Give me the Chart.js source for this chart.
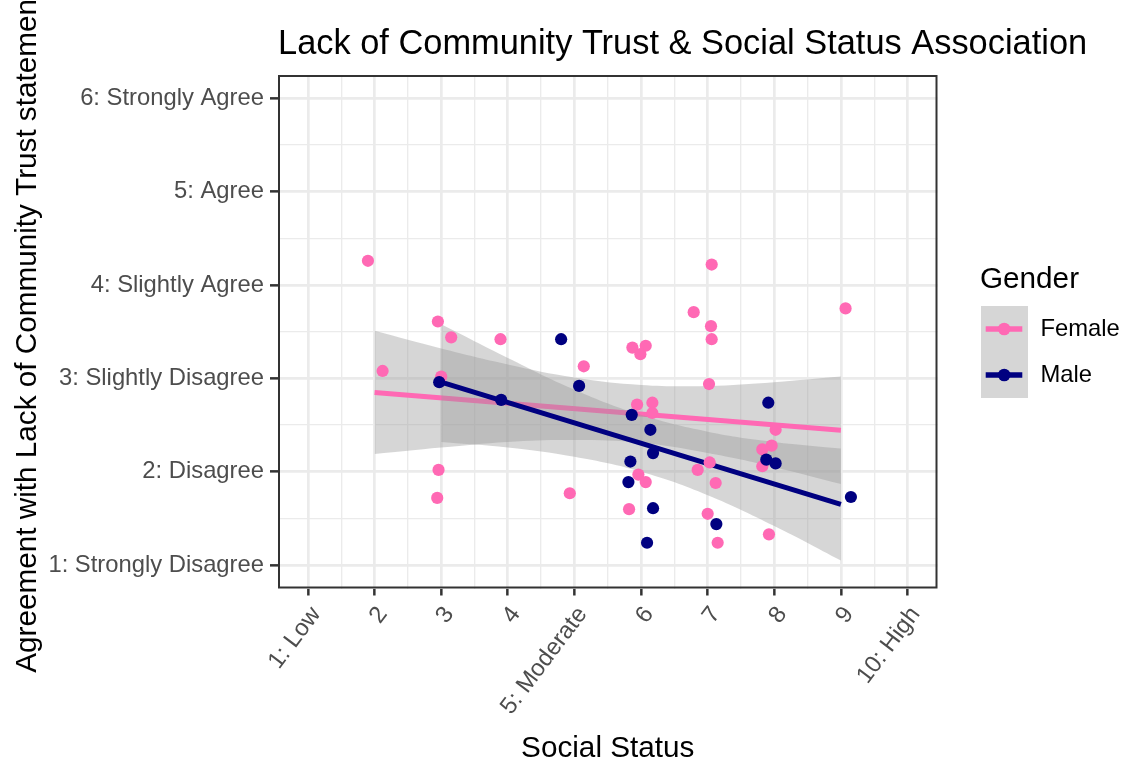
<!DOCTYPE html>
<html>
<head>
<meta charset="utf-8">
<title>Lack of Community Trust &amp; Social Status Association</title>
<script src="https://cdn.jsdelivr.net/npm/chart.js@4.4.1/dist/chart.umd.min.js"></script>
<style>
  html, body { margin: 0; padding: 0; background: #ffffff; }
  #wrap { width: 1125px; height: 763px; }
</style>
</head>
<body>
<div id="wrap"><canvas id="chart" width="1125" height="763"></canvas></div>
<script>
const FONT = '"Liberation Sans", Arial, Helvetica, sans-serif';

// Axis ticks
const statusTickValues = [1, 2, 3, 4, 5, 6, 7, 8, 9, 10];
const statusTickLabels = ['1: Low', '2', '3', '4', '5: Moderate', '6', '7', '8', '9', '10: High'];
const agreeTickValues = [1, 2, 3, 4, 5, 6];
const agreeTickLabels = ['1: Strongly Disagree', '2: Disagree', '3: Slightly Disagree',
                         '4: Slightly Agree', '5: Agree', '6: Strongly Agree'];

// Responses (jittered), by gender
const femaleStatus = [1.90, 2.12, 2.95, 3.15, 3.00, 2.96, 2.94, 3.89, 4.93, 5.14,
                      7.06, 6.79, 7.05, 7.06, 9.07, 5.87, 6.07, 5.99, 7.02, 5.94,
                      6.17, 6.17, 8.02, 7.96, 7.82, 7.82, 7.03, 6.85, 5.96, 6.07,
                      7.12, 5.82, 7.00, 7.92, 7.15];
const femaleAgree  = [4.26, 3.08, 3.61, 3.44, 3.02, 2.02, 1.72, 3.42, 1.77, 3.13,
                      4.22, 3.71, 3.56, 3.42, 3.75, 3.33, 3.35, 3.26, 2.94, 2.72,
                      2.74, 2.63, 2.45, 2.28, 2.24, 2.06, 2.10, 2.02, 1.97, 1.89,
                      1.88, 1.60, 1.55, 1.33, 1.24];
const maleStatus = [2.97, 3.90, 4.80, 5.07, 5.86, 6.14, 6.18, 5.84, 5.81, 6.18,
                    7.13, 6.09, 7.91, 7.88, 8.02, 9.15];
const maleAgree  = [2.96, 2.77, 3.42, 2.92, 2.61, 2.45, 2.20, 2.11, 1.89, 1.61,
                    1.44, 1.24, 2.74, 2.13, 2.09, 1.73];

// Linear fits and their 95% confidence bands
const femaleFitStatus = [2, 9];
const femaleFitAgree = [2.85, 2.445];
const femaleBandStatus = [2, 3, 4, 5, 6, 7, 8, 9];
const femaleBandUpper = [3.51, 3.32, 3.15, 3.01, 2.93, 2.92, 2.96, 3.02];
const femaleBandLower = [2.19, 2.26, 2.32, 2.34, 2.31, 2.20, 2.05, 1.87];

const maleFitStatus = [3, 9];
const maleFitAgree = [2.96, 1.65];
const maleBandStatus = [3, 4, 5, 6, 7, 8, 9];
const maleBandUpper = [3.58, 3.22, 2.88, 2.61, 2.43, 2.32, 2.25];
const maleBandLower = [2.32, 2.26, 2.16, 2.00, 1.75, 1.42, 1.05];

const genders = ['Female', 'Male'];

// Styling
const PINK = '#FF69B4';
const NAVY = '#000080';
const BAND = 'rgba(153,153,153,0.4)';
const GRID = '#EBEBEB';
const AXIS_DARK = '#333333';
const TICK_TEXT = '#4D4D4D';

const pts = (xs, ys) => xs.map((x, i) => ({ x, y: ys[i] }));

// Major values plus the half steps between them (minor grid)
const withMinor = (vals) => {
  const out = [];
  vals.forEach((v, i) => {
    out.push(v);
    if (i < vals.length - 1) out.push((v + vals[i + 1]) / 2);
  });
  return out;
};

const isMajor = (ctx) => ctx.tick && Number.isInteger(ctx.tick.value);

const bandSet = (xs, ys, fill, order) => ({
  data: pts(xs, ys),
  showLine: true,
  borderWidth: 0,
  borderColor: 'rgba(0,0,0,0)',
  backgroundColor: BAND,
  pointRadius: 0,
  pointHoverRadius: 0,
  tension: 0.4,
  fill,
  order
});

const fitSet = (xs, ys, color, order) => ({
  data: pts(xs, ys),
  showLine: true,
  borderWidth: 5,
  borderColor: color,
  borderCapStyle: 'butt',
  pointRadius: 0,
  pointHoverRadius: 0,
  fill: false,
  order
});

const pointSet = (xs, ys, color, order) => ({
  data: pts(xs, ys),
  showLine: false,
  pointRadius: 6.1,
  pointHoverRadius: 6.1,
  pointBorderWidth: 0,
  pointBackgroundColor: color,
  backgroundColor: color,
  borderColor: color,
  order
});

// Panel border drawn over the plotted marks
const panelFrame = {
  id: 'panelFrame',
  afterDatasetsDraw(chart) {
    const { ctx, chartArea: a } = chart;
    ctx.save();
    ctx.strokeStyle = AXIS_DARK;
    ctx.lineWidth = 2;
    ctx.strokeRect(a.left + 1, a.top + 1, a.right - a.left - 2, a.bottom - a.top - 2);
    ctx.restore();
  }
};

// Plot title and the Gender legend
const titleAndLegend = {
  id: 'titleAndLegend',
  afterDraw(chart) {
    const { ctx, chartArea: a } = chart;
    ctx.save();
    ctx.fillStyle = '#000000';
    ctx.textAlign = 'left';
    ctx.textBaseline = 'alphabetic';
    ctx.font = `34.4px ${FONT}`;
    ctx.fillText('Lack of Community Trust & Social Status Association', a.left, 54);

    ctx.font = `29.7px ${FONT}`;
    ctx.fillText('Gender', 980, 288);

    const colors = [PINK, NAVY];
    genders.forEach((g, i) => {
      const top = 306 + i * 46;
      const cy = top + 23;
      ctx.fillStyle = BAND;
      ctx.fillRect(981, top, 47, 46);
      ctx.strokeStyle = colors[i];
      ctx.lineWidth = 5.5;
      ctx.lineCap = 'butt';
      ctx.beginPath();
      ctx.moveTo(985.7, cy);
      ctx.lineTo(1022.3, cy);
      ctx.stroke();
      ctx.fillStyle = colors[i];
      ctx.beginPath();
      ctx.arc(1004.2, cy, 6.3, 0, Math.PI * 2);
      ctx.fill();
      ctx.fillStyle = '#000000';
      ctx.font = `23.8px ${FONT}`;
      ctx.textBaseline = 'middle';
      ctx.fillText(g, 1040.5, cy);
      ctx.textBaseline = 'alphabetic';
    });
    ctx.restore();
  }
};

const gridOpts = {
  color: GRID,
  lineWidth: (ctx) => (isMajor(ctx) ? 2.7 : 1.35),
  drawTicks: true,
  tickLength: 8,
  tickWidth: 2.5,
  tickColor: (ctx) => (isMajor(ctx) ? AXIS_DARK : 'rgba(0,0,0,0)')
};

new Chart(document.getElementById('chart'), {
  type: 'scatter',
  data: {
    datasets: [
      bandSet(femaleBandStatus, femaleBandUpper, '+1', 60),
      bandSet(femaleBandStatus, femaleBandLower, false, 59),
      fitSet(femaleFitStatus, femaleFitAgree, PINK, 50),
      bandSet(maleBandStatus, maleBandUpper, '+1', 40),
      bandSet(maleBandStatus, maleBandLower, false, 39),
      fitSet(maleFitStatus, maleFitAgree, NAVY, 30),
      pointSet(femaleStatus, femaleAgree, PINK, 20),
      pointSet(maleStatus, maleAgree, NAVY, 10)
    ]
  },
  options: {
    responsive: false,
    animation: false,
    devicePixelRatio: 1,
    layout: { padding: { top: 75, right: 187.5, bottom: 0, left: 0 } },
    plugins: {
      legend: { display: false },
      tooltip: { enabled: false },
      title: { display: false }
    },
    scales: {
      x: {
        type: 'linear',
        min: 0.55,
        max: 10.45,
        afterBuildTicks: (axis) => {
          axis.ticks = withMinor(statusTickValues).map((v) => ({ value: v }));
        },
        afterFit: (axis) => { axis.height = 174.5; },
        grid: Object.assign({}, gridOpts, { tickLength: 7 }),
        border: { display: false },
        ticks: {
          autoSkip: false,
          minRotation: 53,
          maxRotation: 53,
          padding: 6,
          labelOffset: 8,
          color: TICK_TEXT,
          font: { family: FONT, size: 23.8 },
          callback: (value) => {
            const i = statusTickValues.indexOf(value);
            return i >= 0 ? statusTickLabels[i] : '';
          }
        },
        title: {
          display: true,
          text: 'Social Status',
          color: '#000000',
          font: { family: FONT, size: 29.7 },
          padding: { top: 0, bottom: -4 }
        }
      },
      y: {
        type: 'linear',
        min: 0.75,
        max: 6.25,
        afterBuildTicks: (axis) => {
          axis.ticks = withMinor(agreeTickValues).map((v) => ({ value: v }));
        },
        afterFit: (axis) => { axis.width = 278; },
        grid: gridOpts,
        border: { display: false },
        ticks: {
          autoSkip: false,
          padding: 6,
          color: TICK_TEXT,
          font: { family: FONT, size: 23.8 },
          callback: (value) => {
            const i = agreeTickValues.indexOf(value);
            return i >= 0 ? agreeTickLabels[i] : '';
          }
        },
        title: {
          display: true,
          text: 'Agreement with Lack of Community Trust statement',
          color: '#000000',
          font: { family: FONT, size: 29.7 },
          padding: { top: 10, bottom: 0 }
        }
      }
    }
  },
  plugins: [panelFrame, titleAndLegend]
});
</script>
</body>
</html>
